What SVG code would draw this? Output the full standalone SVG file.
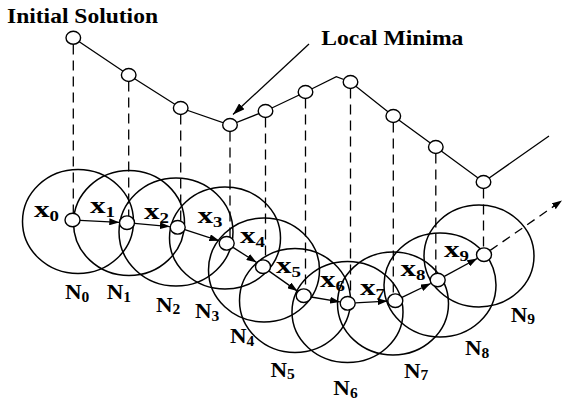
<svg xmlns="http://www.w3.org/2000/svg" width="564" height="401" viewBox="0 0 564 401">
<style>
.bg{fill:#fff}
.nb{fill:none;stroke:#000;stroke-width:1.5}
.nd{fill:#fff;stroke:#000;stroke-width:1.4}
.ln{fill:none;stroke:#000;stroke-width:1.3}
.ds{fill:none;stroke:#000;stroke-width:1.3;stroke-dasharray:10 6}
.ar{fill:none;stroke:#000;stroke-width:1.3;marker-end:url(#ah)}
text{font-family:'Liberation Serif','DejaVu Serif',serif;font-weight:700;fill:#000}
.xl{font-size:24px}
.nl{font-size:21.5px}
.sub{font-size:14.5px}
</style>
<defs>
<marker id="ah" markerUnits="userSpaceOnUse" markerWidth="10" markerHeight="7" refX="10" refY="3.5" orient="auto">
<path d="M0,0 L10,3.5 L0,7 z" fill="#000"/>
</marker>
<marker id="ah2" markerUnits="userSpaceOnUse" markerWidth="12" markerHeight="8" refX="12" refY="4" orient="auto">
<path d="M0,0 L12,4 L0,8 z" fill="#000"/>
</marker>
</defs>
<rect class="bg" x="0" y="0" width="564" height="401"/>

<g id="neighborhoods" font-family="Liberation Serif, DejaVu Serif, serif">
<g id="N0"><ellipse class="nb" cx="78" cy="221.5" rx="55.5" ry="52"/><text class="nl" transform="translate(65,299.3) scale(1.07,1)">N<tspan class="sub" dy="2.5">0</tspan></text></g>
<g id="N1"><ellipse class="nb" cx="129" cy="223" rx="55.5" ry="52.5"/><text class="nl" transform="translate(106.7,299.3) scale(1.07,1)">N<tspan class="sub" dy="2.5">1</tspan></text></g>
<g id="N2"><ellipse class="nb" cx="176" cy="232" rx="57" ry="54"/><text class="nl" transform="translate(156,311.7) scale(1.07,1)">N<tspan class="sub" dy="2.5">2</tspan></text></g>
<g id="N3"><ellipse class="nb" cx="225" cy="238" rx="55.5" ry="51"/><text class="nl" transform="translate(195,318.3) scale(1.07,1)">N<tspan class="sub" dy="2.5">3</tspan></text></g>
<g id="N4"><ellipse class="nb" cx="264" cy="270" rx="55.5" ry="52"/><text class="nl" transform="translate(230,343.3) scale(1.07,1)">N<tspan class="sub" dy="2.5">4</tspan></text></g>
<g id="N5"><ellipse class="nb" cx="295" cy="300.5" rx="55.5" ry="52"/><text class="nl" transform="translate(270.5,376.7) scale(1.07,1)">N<tspan class="sub" dy="2.5">5</tspan></text></g>
<g id="N6"><ellipse class="nb" cx="347.5" cy="312" rx="55.5" ry="50.5"/><text class="nl" transform="translate(333.3,395) scale(1.07,1)">N<tspan class="sub" dy="2.5">6</tspan></text></g>
<g id="N7"><ellipse class="nb" cx="393" cy="303.5" rx="55.5" ry="51.5"/><text class="nl" transform="translate(404,377.7) scale(1.07,1)">N<tspan class="sub" dy="2.5">7</tspan></text></g>
<g id="N8"><ellipse class="nb" cx="440" cy="285" rx="56" ry="52"/><text class="nl" transform="translate(465,355) scale(1.07,1)">N<tspan class="sub" dy="2.5">8</tspan></text></g>
<g id="N9"><ellipse class="nb" cx="479" cy="256" rx="55" ry="51"/><text class="nl" transform="translate(510.7,321.7) scale(1.07,1)">N<tspan class="sub" dy="2.5">9</tspan></text></g>
</g>

<g id="connectors">
<polyline class="ln" points="73.3,37.8 128.7,75 180.7,108 230,125 265.5,111 305.5,92 336.3,76.7 350.5,82 393.3,116 435.8,147 483.5,182 549,136"/>
<line class="ds" x1="73.3" y1="44.5" x2="73.3" y2="213"/>
<line class="ds" x1="128.7" y1="81.5" x2="128.7" y2="216"/>
<line class="ds" x1="180.7" y1="114.5" x2="180.7" y2="220.5"/>
<line class="ds" x1="230" y1="131.5" x2="230" y2="237"/>
<line class="ds" x1="265.5" y1="117.5" x2="265.5" y2="260.2"/>
<line class="ds" x1="305.5" y1="98.5" x2="305.5" y2="289.2"/>
<line class="ds" x1="350.5" y1="88.5" x2="350.5" y2="296.8"/>
<line class="ds" x1="393.3" y1="122.5" x2="393.3" y2="294.2"/>
<line class="ds" x1="435.8" y1="153.5" x2="435.8" y2="273.5"/>
<line class="ds" x1="483.5" y1="188.5" x2="483.5" y2="248"/>
<line class="ar" x1="80" y1="220.4" x2="119.3" y2="222.3"/>
<line class="ar" x1="134.5" y1="223.4" x2="169.9" y2="226.6"/>
<line class="ar" x1="184.8" y1="229.6" x2="219.3" y2="240.8"/>
<line class="ar" x1="233" y1="247.4" x2="256.5" y2="262.4"/>
<line class="ar" x1="269.1" y1="271.1" x2="297.4" y2="291.1"/>
<line class="ar" x1="311.1" y1="297" x2="340" y2="301.9"/>
<line class="ar" x1="355.2" y1="302.9" x2="387.6" y2="301.1"/>
<line class="ar" x1="402" y1="297.4" x2="430.7" y2="283.5"/>
<line class="ar" x1="444.3" y1="276.4" x2="477.2" y2="258.5"/>
<line class="ds" x1="490.2" y1="250.4" x2="562" y2="200.6" style="stroke-dasharray:9 6;marker-end:url(#ah)"/>
<line x1="309" y1="44" x2="233" y2="114.5" stroke="#000" stroke-width="1.3" marker-end="url(#ah2)"/>
</g>

<g id="solutions">
<g id="P0"><ellipse class="nd" cx="73.3" cy="37.8" rx="7.3" ry="6.5"/></g>
<g id="P1"><ellipse class="nd" cx="128.7" cy="75" rx="7.3" ry="6.5"/></g>
<g id="P2"><ellipse class="nd" cx="180.7" cy="108" rx="7.3" ry="6.5"/></g>
<g id="P3"><ellipse class="nd" cx="230" cy="125" rx="7.3" ry="6.5"/></g>
<g id="P4"><ellipse class="nd" cx="265.5" cy="111" rx="7.3" ry="6.5"/></g>
<g id="P5"><ellipse class="nd" cx="305.5" cy="92" rx="7.3" ry="6.5"/></g>
<g id="P6"><ellipse class="nd" cx="350.5" cy="82" rx="7.3" ry="6.5"/></g>
<g id="P7"><ellipse class="nd" cx="393.3" cy="116" rx="7.3" ry="6.5"/></g>
<g id="P8"><ellipse class="nd" cx="435.8" cy="147" rx="7.3" ry="6.5"/></g>
<g id="P9"><ellipse class="nd" cx="483.5" cy="182" rx="7.3" ry="6.5"/></g>
</g>

<g id="points" font-family="Liberation Serif, DejaVu Serif, serif">
<g id="x0"><ellipse class="nd" cx="72.5" cy="220" rx="7.5" ry="6.8"/><text class="xl" transform="translate(34,216.7) scale(1.3,1)">x<tspan class="sub" dy="4">0</tspan></text></g>
<g id="x1"><ellipse class="nd" cx="127" cy="222.7" rx="7.5" ry="6.8"/><text class="xl" transform="translate(90,213.3) scale(1.3,1)">x<tspan class="sub" dy="4">1</tspan></text></g>
<g id="x2"><ellipse class="nd" cx="177.7" cy="227.3" rx="7.5" ry="6.8"/><text class="xl" transform="translate(144,219.3) scale(1.3,1)">x<tspan class="sub" dy="4">2</tspan></text></g>
<g id="x3"><ellipse class="nd" cx="226.7" cy="243.3" rx="7.5" ry="6.8"/><text class="xl" transform="translate(197.5,223.3) scale(1.3,1)">x<tspan class="sub" dy="4">3</tspan></text></g>
<g id="x4"><ellipse class="nd" cx="263" cy="266.7" rx="7.5" ry="6.8"/><text class="xl" transform="translate(240,243.3) scale(1.3,1)">x<tspan class="sub" dy="4">4</tspan></text></g>
<g id="x5"><ellipse class="nd" cx="303.7" cy="295.7" rx="7.5" ry="6.8"/><text class="xl" transform="translate(276,273.3) scale(1.3,1)">x<tspan class="sub" dy="4">5</tspan></text></g>
<g id="x6"><ellipse class="nd" cx="347.7" cy="303.3" rx="7.5" ry="6.8"/><text class="xl" transform="translate(320,287.3) scale(1.3,1)">x<tspan class="sub" dy="4">6</tspan></text></g>
<g id="x7"><ellipse class="nd" cx="395.3" cy="300.7" rx="7.5" ry="6.8"/><text class="xl" transform="translate(360,295) scale(1.3,1)">x<tspan class="sub" dy="4">7</tspan></text></g>
<g id="x8"><ellipse class="nd" cx="437.7" cy="280" rx="7.5" ry="6.8"/><text class="xl" transform="translate(400.5,276) scale(1.3,1)">x<tspan class="sub" dy="4">8</tspan></text></g>
<g id="x9"><ellipse class="nd" cx="484" cy="254.7" rx="7.5" ry="6.8"/><text class="xl" transform="translate(444,257.3) scale(1.3,1)">x<tspan class="sub" dy="4">9</tspan></text></g>
</g>

<g id="labels" font-family="Liberation Serif, DejaVu Serif, serif">
<text x="7" y="23.3" font-size="21" textLength="151" lengthAdjust="spacingAndGlyphs">Initial Solution</text>
<text x="321.3" y="45" font-size="21" textLength="142" lengthAdjust="spacingAndGlyphs">Local Minima</text>
</g>
</svg>
